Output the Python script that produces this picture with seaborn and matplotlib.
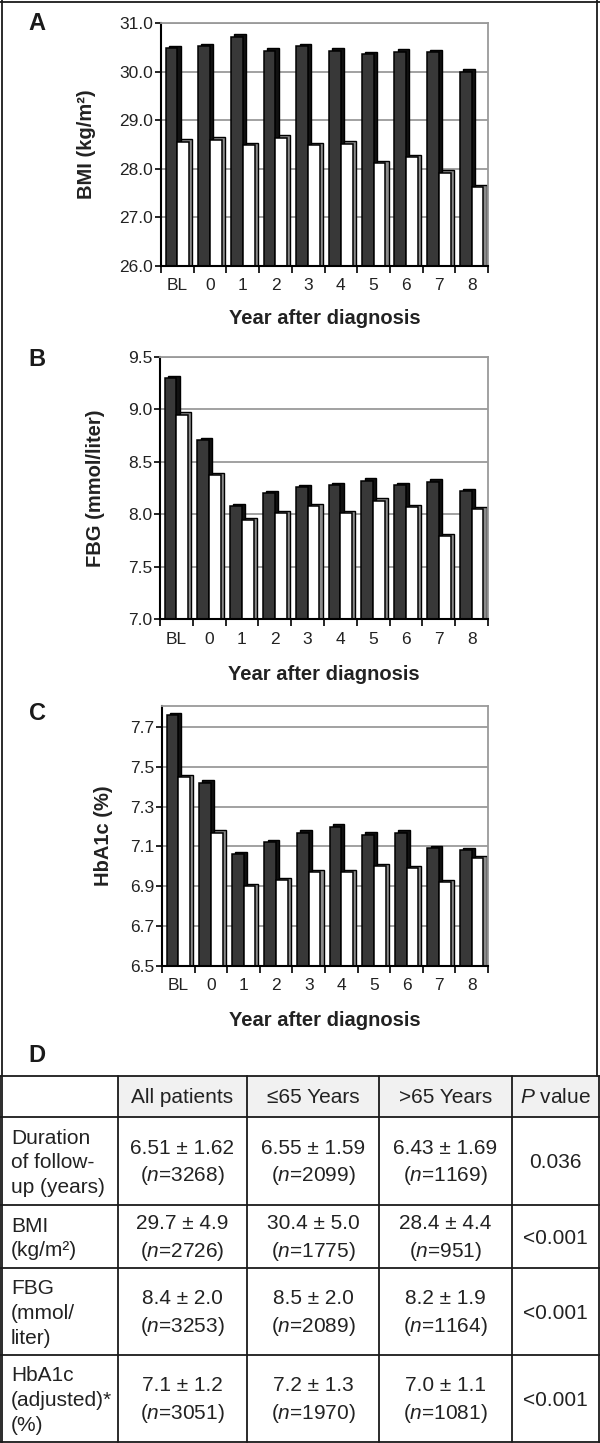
import numpy as np
import pandas as pd
import matplotlib
matplotlib.use("Agg")
import matplotlib.pyplot as plt
import matplotlib.patheffects as pe
import seaborn as sns


sns.set_style("white")
plt.rcParams['font.family'] = ['Liberation Sans', 'DejaVu Sans']
plt.rcParams['mathtext.fontset'] = 'custom'
plt.rcParams['mathtext.rm'] = 'Liberation Sans'
plt.rcParams['mathtext.it'] = 'Liberation Sans:italic'

# --- data ---
years = ['BL', '0', '1', '2', '3', '4', '5', '6', '7', '8']
groups = ['\u226465 Years', '>65 Years']

bmi_le65 = [30.49, 30.53, 30.72, 30.43, 30.53, 30.43, 30.36, 30.41, 30.40, 30.00]
bmi_gt65 = [28.56, 28.60, 28.49, 28.64, 28.49, 28.52, 28.12, 28.24, 27.92, 27.62]

fbg_le65 = [9.30, 8.71, 8.08, 8.20, 8.26, 8.28, 8.32, 8.28, 8.31, 8.22]
fbg_gt65 = [8.95, 8.37, 7.94, 8.01, 8.08, 8.01, 8.13, 8.07, 7.79, 8.05]

hba1c_le65 = [7.76, 7.42, 7.06, 7.12, 7.17, 7.20, 7.16, 7.17, 7.09, 7.08]
hba1c_gt65 = [7.45, 7.17, 6.90, 6.93, 6.97, 6.97, 7.00, 6.99, 6.92, 7.04]

table_header = ['', 'All patients', '\u226465 Years', '>65 Years', '$P$ value']
row_labels = ['Duration\nof follow-\nup (years)', 'BMI\n(kg/m\u00b2)',
              'FBG\n(mmol/\nliter)', 'HbA1c\n(adjusted)*\n(%)']
all_patients = ['6.51 \u00b1 1.62\n($n$=3268)', '29.7 \u00b1 4.9\n($n$=2726)',
                '8.4 \u00b1 2.0\n($n$=3253)', '7.1 \u00b1 1.2\n($n$=3051)']
le65_col = ['6.55 \u00b1 1.59\n($n$=2099)', '30.4 \u00b1 5.0\n($n$=1775)',
            '8.5 \u00b1 2.0\n($n$=2089)', '7.2 \u00b1 1.3\n($n$=1970)']
gt65_col = ['6.43 \u00b1 1.69\n($n$=1169)', '28.4 \u00b1 4.4\n($n$=951)',
            '8.2 \u00b1 1.9\n($n$=1164)', '7.0 \u00b1 1.1\n($n$=1081)']
p_values = ['0.036', '<0.001', '<0.001', '<0.001']

W, H = 600, 1443
fig = plt.figure(figsize=(W / 100, H / 100), dpi=100)

# background layer in pixel coordinates (frame + table)
bg = fig.add_axes([0, 0, 1, 1])
bg.set_xlim(0, W)
bg.set_ylim(H, 0)
bg.axis('off')

ink = '#1a1a1a'
bg.plot([1.5, 1.5], [0, H], color=ink, lw=1.3)
bg.plot([597, 597], [0, 1076], color=ink, lw=1.3)
bg.plot([0, W], [1.5, 1.5], color=ink, lw=1.3)

col_edges = [0, 118, 247, 379, 512, 599]
row_edges = [1076, 1117, 1205, 1268, 1355, 1442]

for c0, c1 in zip(col_edges[1:-1], col_edges[2:]):
    bg.fill_between([c0, c1], row_edges[0], row_edges[1], color='#f1f1f1', lw=0)
for y in row_edges:
    bg.plot([0, W], [y, y], color=ink, lw=1.3)
for x in col_edges:
    bg.plot([x, x], [row_edges[0], row_edges[-1]], color=ink, lw=1.3)

tfs = 15
for j, txt in enumerate(table_header):
    if txt:
        bg.text((col_edges[j] + col_edges[j + 1]) / 2, (row_edges[0] + row_edges[1]) / 2 + 1,
                txt, ha='center', va='center', fontsize=tfs, color='#222222')

columns = [all_patients, le65_col, gt65_col, p_values]
for i, lab in enumerate(row_labels):
    yc = (row_edges[i + 1] + row_edges[i + 2]) / 2 + 2
    bg.text(11, yc, lab, ha='left', va='center', fontsize=tfs, color='#222222',
            linespacing=1.37)
    for j, col in enumerate(columns):
        bg.text((col_edges[j + 1] + col_edges[j + 2]) / 2, yc, col[i],
                ha='center', va='center', multialignment='center',
                fontsize=tfs, color='#222222', linespacing=1.4)

bg.text(37, 1055, 'D', ha='center', va='center', fontsize=17, fontweight='bold', color=ink)


def panel(box, le65, gt65, ylim, yticks, ylabel, letter, letter_y, ylab_x):
    left, top, right, bottom = box
    ax = fig.add_axes([left / W, 1 - bottom / H, (right - left) / W, (bottom - top) / H])
    df = pd.DataFrame({
        'year': years * 2,
        'group': [groups[0]] * len(years) + [groups[1]] * len(years),
        'value': le65 + gt65,
    })
    sns.barplot(data=df, x='year', y='value', hue='group', order=years, hue_order=groups,
                palette={groups[0]: '#383838', groups[1]: 'white'}, edgecolor='black',
                linewidth=1.1, width=0.72, legend=False, saturation=1, ax=ax)
    for p in ax.patches:
        dark = p.get_facecolor()[0] < 0.5
        side = '#111111' if dark else '#8a8a8a'
        p.set_path_effects([pe.PathPatchEffect(offset=(2.3, 1.6), facecolor=side,
                                               edgecolor='black', linewidth=1.0),
                            pe.Normal()])
    ax.set_ylim(*ylim)
    ax.set_yticks(yticks)
    ax.set_yticklabels([f'{t:.1f}' for t in yticks])
    ax.yaxis.grid(True, color='#9a9a9a', linewidth=1.3)
    ax.set_axisbelow(True)
    for s in ['top', 'right']:
        ax.spines[s].set_color('#9a9a9a')
        ax.spines[s].set_linewidth(1.3)
    for s in ['left', 'bottom']:
        ax.spines[s].set_color('black')
        ax.spines[s].set_linewidth(1.5)
    ax.tick_params(axis='y', which='major', direction='out', length=4, width=1.2,
                   pad=1.5, labelsize=12.5, colors='black', labelcolor='#222222', left=True)
    ax.set_xticks(np.arange(-0.5, len(years), 1), minor=True)
    ax.tick_params(axis='x', which='major', length=0, pad=9, labelsize=12.5,
                   labelcolor='#222222')
    ax.tick_params(axis='x', which='minor', direction='out', length=5, width=1.2,
                   colors='black', bottom=True)
    ax.set_xlim(-0.5, len(years) - 0.5)
    ax.set_xlabel('Year after diagnosis', fontsize=14.5, fontweight='bold', color='#222222')
    ax.set_ylabel(ylabel, fontsize=14.5, fontweight='bold', color='#222222')
    ax.xaxis.set_label_coords(0.5, -0.175)
    ax.yaxis.set_label_coords(ylab_x, 0.5)
    bg.text(37, letter_y, letter, ha='center', va='center', fontsize=17,
            fontweight='bold', color=ink)
    return ax


panel((161, 23, 488, 266), bmi_le65, bmi_gt65, (26, 31), np.arange(26, 31.01, 1.0),
      'BMI (kg/m\u00b2)', 'A', 24, -0.198)
panel((160, 357, 488, 619), fbg_le65, fbg_gt65, (7, 9.5), np.arange(7, 9.51, 0.5),
      'FBG (mmol/liter)', 'B', 360, -0.167)
panel((162, 706, 488, 966), hba1c_le65, hba1c_gt65, (6.5, 7.805), np.arange(6.5, 7.71, 0.2),
      'HbA1c (%)', 'C', 713, -0.149)

fig.savefig('out.png', dpi=100)
